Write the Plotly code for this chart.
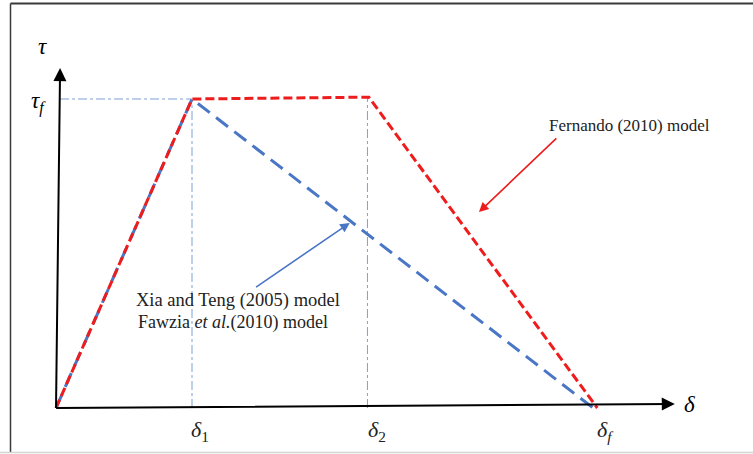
import plotly.graph_objects as go

# ---- data (slip δ in units of δ1, stress τ in units of τf) ----
delta1 = 1.0
delta2 = 2.30
deltaf_red = 3.98
deltaf_blue = 3.95
tau_f = 1.0

blue_x = [0, delta1, deltaf_blue]          # Xia and Teng / Fawzia bilinear
blue_y = [0, tau_f, 0]
red_x = [0, delta1, delta2, deltaf_red]    # Fernando trapezoidal
red_y = [0, tau_f, 1.006, 0]

tick_labels = ["<i>δ</i><sub>1</sub>", "<i>δ</i><sub>2</sub>", "<i>δ<sub>f</sub></i>"]
tick_values = [delta1, delta2, deltaf_red]

SERIF = "Liberation Serif"

fig = go.Figure()

# guide lines (dash-dot, thin)
guide = dict(color="#7f9fd6", width=1, dash="dashdot")
fig.add_trace(go.Scatter(x=[0.03, delta1], y=[tau_f, tau_f], mode="lines", line=guide, hoverinfo="skip"))
fig.add_trace(go.Scatter(x=[delta1, delta1], y=[0, tau_f], mode="lines", line=guide, hoverinfo="skip"))
fig.add_trace(go.Scatter(x=[delta2 - 0.01, delta2 - 0.01], y=[0, 1.006], mode="lines", line=guide, hoverinfo="skip"))

# models
fig.add_trace(go.Scatter(x=blue_x, y=blue_y, mode="lines",
                         line=dict(color="#4a76c6", width=3, dash="15px,8px"), hoverinfo="skip"))
fig.add_trace(go.Scatter(x=red_x, y=red_y, mode="lines",
                         line=dict(color="#ee1c1c", width=3, dash="9px,4px"), hoverinfo="skip"))

ann = []
# axes with arrows
ann.append(dict(x=0.03, y=1.10, ax=0, ay=-0.005, xref="x", yref="y", axref="x", ayref="y",
                showarrow=True, arrowhead=2, arrowsize=1.3, arrowwidth=2, arrowcolor="black",
                text="", standoff=0))
ann.append(dict(x=4.55, y=0.013, ax=-0.01, ay=0, xref="x", yref="y", axref="x", ayref="y",
                showarrow=True, arrowhead=2, arrowsize=1.3, arrowwidth=2, arrowcolor="black",
                text="", standoff=0))

# axis symbols
ann.append(dict(x=-0.10, y=1.17, xref="x", yref="y", text="<i>τ</i>", showarrow=False,
                font=dict(family=SERIF, size=23, color="black")))
ann.append(dict(x=-0.13, y=0.99, xref="x", yref="y", text="<i>τ<sub>f</sub></i>", showarrow=False,
                font=dict(family=SERIF, size=23, color="black")))
ann.append(dict(x=4.66, y=0.012, xref="x", yref="y", text="<i>δ</i>", showarrow=False,
                font=dict(family=SERIF, size=23, color="black")))

for v, t in zip(tick_values, tick_labels):
    ann.append(dict(x=v, y=-0.075, xref="x", yref="y", text=t, showarrow=False, xshift=8,
                    font=dict(family=SERIF, size=22, color="#222")))

# model labels and pointer arrows
ann.append(dict(x=4.22, y=0.915, xref="x", yref="y", text="Fernando (2010) model", showarrow=False,
                font=dict(family=SERIF, size=17, color="#222")))
ann.append(dict(x=3.11, y=0.634, ax=3.69, ay=0.877, xref="x", yref="y", axref="x", ayref="y",
                showarrow=True, arrowhead=2, arrowsize=1.2, arrowwidth=1.6, arrowcolor="#ee1c1c",
                text="", standoff=0))
ann.append(dict(x=1.34, y=0.347, xref="x", yref="y", text="Xia and Teng (2005) model", showarrow=False,
                font=dict(family=SERIF, size=18.5, color="#222")))
ann.append(dict(x=1.30, y=0.276, xref="x", yref="y", text="Fawzia <i>et al.</i>(2010) model", showarrow=False,
                font=dict(family=SERIF, size=18, color="#222")))
ann.append(dict(x=2.16, y=0.599, ax=1.46, ay=0.388, xref="x", yref="y", axref="x", ayref="y",
                showarrow=True, arrowhead=2, arrowsize=1.2, arrowwidth=1.6, arrowcolor="#4a76c6",
                text="", standoff=0))

shapes = [
    dict(type="line", xref="paper", yref="paper", x0=10.5 / 753, x1=1, y0=1 - 3.5 / 454, y1=1 - 3.5 / 454,
         line=dict(color="#3a3a3a", width=2)),
    dict(type="line", xref="paper", yref="paper", x0=10.5 / 753, x1=10.5 / 753, y0=1 - 452 / 454, y1=1 - 3.5 / 454,
         line=dict(color="#3a3a3a", width=1.5)),
    dict(type="line", xref="paper", yref="paper", x0=0, x1=1, y0=1 - 452.5 / 454, y1=1 - 452.5 / 454,
         line=dict(color="#d4d4d4", width=1.5)),
]

fig.update_layout(
    width=753, height=454,
    margin=dict(l=0, r=0, t=0, b=0),
    paper_bgcolor="white", plot_bgcolor="white",
    showlegend=False,
    xaxis=dict(range=[-56 / 136, (753 - 56) / 136], visible=False, fixedrange=True),
    yaxis=dict(range=[-46 / 309, 408 / 309], visible=False, fixedrange=True),
    annotations=ann,
    shapes=shapes,
)

fig.write_html("out.html", config={"displayModeBar": False},
               post_script="document.body.style.margin='0px';document.body.style.overflow='hidden';")
